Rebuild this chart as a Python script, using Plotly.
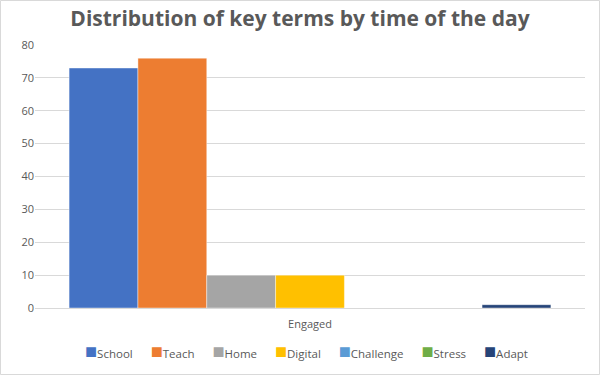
import plotly.graph_objects as go

categories = ["Engaged"]
series_names = ["School", "Teach", "Home", "Digital", "Challenge", "Stress", "Adapt"]
series_values = [[73], [76], [10], [10], [0], [0], [1]]
colors = ["#4472C4", "#ED7D31", "#A5A5A5", "#FFC000", "#5B9BD5", "#70AD47", "#264478"]
y_ticks = [0, 10, 20, 30, 40, 50, 60, 70, 80]

fig = go.Figure()
for name, vals, c in zip(series_names, series_values, colors):
    fig.add_trace(go.Bar(x=categories, y=vals, name=name, showlegend=False,
                         marker=dict(color=c, line=dict(color="rgba(255,255,255,0.6)", width=0.7))))

W, H = 600, 375
ml, mr, mt, mb = 35, 15, 45, 67
pw, ph = W - ml - mr, H - mt - mb

# compact legend rendered as one text line (Excel-style)
sep = "&nbsp;" * 6
legend_text = sep.join(
    f"<span style='color:{c};font-size:20px'>■</span>{n}" for n, c in zip(series_names, colors)
)

fig.update_layout(
    width=W, height=H,
    margin=dict(l=ml, r=mr, t=mt, b=mb, autoexpand=False),
    paper_bgcolor="white", plot_bgcolor="white",
    font=dict(family="Open Sans, Liberation Sans, sans-serif", color="#595959", size=11),
    title=dict(text="<b>Distribution of key terms by time of the day</b>",
               x=0.5, xanchor="center", y=1 - 19 / H, yanchor="middle",
               font=dict(size=21, color="#595959")),
    barmode="group", bargap=0.124, bargroupgap=0,
    showlegend=False,
    xaxis=dict(showgrid=False, showline=True, linecolor="#d9d9d9", linewidth=1,
               ticks="", tickfont=dict(size=11, color="#595959"), ticklabelstandoff=6),
    yaxis=dict(range=[0, 80], tickvals=y_ticks, showgrid=True, gridcolor="#d9d9d9", gridwidth=1,
               zeroline=False, showline=False, ticks="", tickfont=dict(size=11, color="#595959")),
    annotations=[dict(text=legend_text, xref="paper", yref="paper",
                      x=(306 - ml) / pw, xanchor="center",
                      y=-(350 - 308) / ph, yanchor="middle", showarrow=False,
                      font=dict(size=11.5, color="#595959"))],
    shapes=[dict(type="rect", xref="paper", yref="paper",
                 x0=-(ml - 0.5) / pw, x1=1 + (mr - 0.5) / pw,
                 y0=-(mb - 0.5) / ph, y1=1 + (mt - 0.5) / ph,
                 line=dict(color="#d9d9d9", width=1))],
)
fig.write_html("out.html", config={"displayModeBar": False},
               post_script="document.body.style.margin='0';")
